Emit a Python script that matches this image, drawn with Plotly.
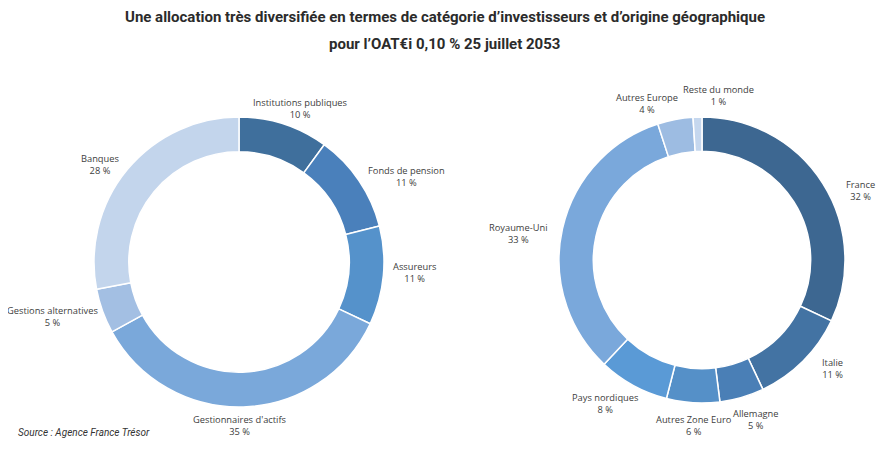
import math
import plotly.graph_objects as go

# ---- data ----
inv_labels = ["Institutions publiques", "Fonds de pension", "Assureurs",
              "Gestionnaires d'actifs", "Gestions alternatives", "Banques"]
inv_values = [10, 11, 11, 35, 5, 28]

geo_labels = ["France", "Italie", "Allemagne", "Autres Zone Euro",
              "Pays nordiques", "Royaume-Uni", "Autres Europe", "Reste du monde"]
geo_values = [32, 11, 5, 6, 8, 33, 4, 1]

title_l1 = "Une allocation très diversifiée en termes de catégorie d’investisseurs et d’origine géographique"
title_l2 = "pour l’OAT€i 0,10 % 25 juillet 2053"
source = "Source : Agence France Trésor"

# ---- styles ----
inv_colors = ["#3f6f9c", "#4a80bb", "#5592cb", "#7aa8da", "#a3bfe3", "#c3d5ec"]
geo_colors = ["#3d6791", "#4373a3", "#4a7fb6", "#5590c8", "#5a9ad6",
              "#7aa8db", "#9dbce2", "#c5d7ee"]

PAGE_W, PAGE_H = 889, 451
OFF = 8  # default body margin of the html page
W, H = PAGE_W - OFF, PAGE_H - OFF


def fx(x):
    return (x - OFF) / W


def fy(y):
    return 1 - (y - OFF) / H


pies = [
    dict(labels=inv_labels, values=inv_values, colors=inv_colors, cx=239, cy=262, R=145,
         nudge={"Institutions publiques": (14, 7), "Assureurs": (0, -4),
                "Gestionnaires d'actifs": (-4, -4), "Gestions alternatives": (5, 3)}),
    dict(labels=geo_labels, values=geo_values, colors=geo_colors, cx=702, cy=260, R=143,
         nudge={"France": (15, 11), "Italie": (11, 2), "Allemagne": (12, 0),
                "Autres Zone Euro": (1, 0), "Pays nordiques": (12, -3),
                "Royaume-Uni": (-5, 6), "Autres Europe": (-27, 6),
                "Reste du monde": (21, 1)}),
]

fig = go.Figure()
annotations = []
label_font = dict(family="Open Sans, Liberation Sans, sans-serif", size=9.3, color="#404040")

for p in pies:
    cx, cy, R = p["cx"], p["cy"], p["R"]
    fig.add_trace(go.Pie(
        labels=p["labels"], values=p["values"], hole=0.76, sort=False,
        direction="clockwise", rotation=0,
        marker=dict(colors=p["colors"], line=dict(color="white", width=1.5)),
        textinfo="none", hoverinfo="label+percent", showlegend=False,
        domain=dict(x=[fx(cx - R), fx(cx + R)],
                    y=[fy(cy + R), fy(cy - R)]),
    ))
    total = sum(p["values"])
    cum = 0
    for lab, v in zip(p["labels"], p["values"]):
        mid = (cum + v / 2) / total * 2 * math.pi
        cum += v
        s, c = math.sin(mid), math.cos(mid)
        r = R + 8
        px = cx + r * s
        py = cy - r * c
        dx, dy = p["nudge"].get(lab, (0, 0))
        px += dx
        py += dy
        xa = "left" if s > 0.35 else ("right" if s < -0.35 else "center")
        ya = "bottom" if c > 0.75 else ("top" if c < -0.75 else "middle")
        annotations.append(dict(
            x=fx(px), y=fy(py), xref="paper", yref="paper",
            xanchor=xa, yanchor=ya, showarrow=False, align="center",
            text=f"{lab}<br>{v} %", font=label_font,
        ))

title_font = dict(family="Roboto, sans-serif", size=15, color="#2b2b2b")
annotations.append(dict(
    x=fx(444.5), y=fy(17), xref="paper", yref="paper", xanchor="center", yanchor="middle",
    showarrow=False, text=f"<b>{title_l1}</b>", font=title_font))
annotations.append(dict(
    x=fx(444.5), y=fy(44), xref="paper", yref="paper", xanchor="center", yanchor="middle",
    showarrow=False, text=f"<b>{title_l2}</b>", font=title_font))
annotations.append(dict(
    x=fx(16), y=fy(432), xref="paper", yref="paper", xanchor="left", yanchor="middle",
    showarrow=False, text=f"<i>{source}</i>",
    font=dict(family="Roboto, sans-serif", size=10, color="#333333")))

fig.update_layout(
    width=W, height=H, margin=dict(l=0, r=0, t=0, b=0),
    paper_bgcolor="white", plot_bgcolor="white",
    annotations=annotations,
)

fig.write_html("out.html")
